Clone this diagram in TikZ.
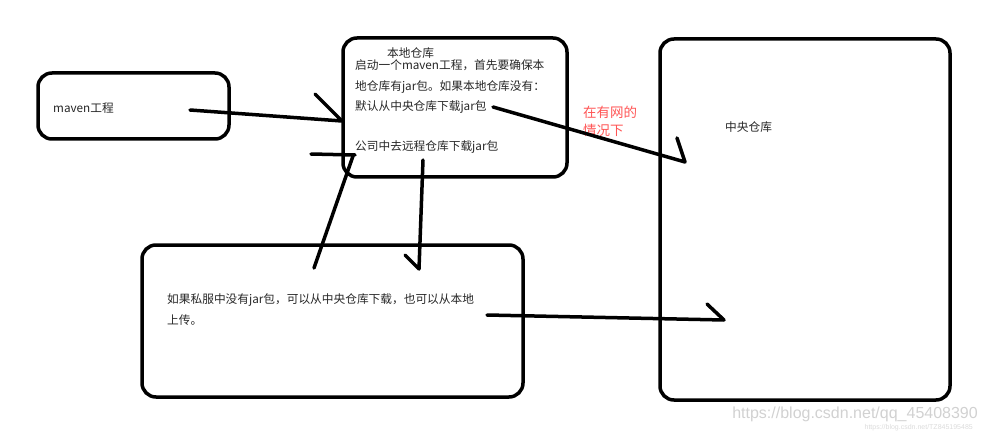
\documentclass[tikz,border=0pt]{standalone}
\usepackage{fontspec}
\setmainfont{Noto Sans CJK SC}
\newfontfamily\wmfont{Liberation Sans}
\definecolor{redtxt}{RGB}{255,85,85}
\begin{document}
\begin{tikzpicture}[x=1pt,y=-1pt,
  box/.style={draw=black, line width=3.5pt, rounded corners=14pt, inner sep=0pt, outer sep=0pt},
  stroke/.style={line width=3.5pt, line cap=round, line join=round},
  txt/.style={anchor=west, inner sep=0pt, font=\fontsize{11.7}{14}\selectfont, text=black!85},
  wm/.style={anchor=east, inner sep=0pt, text=black!18},
]
\useasboundingbox (0,0) rectangle (991,433);
% boxes
\node[box, minimum width=191pt, minimum height=66pt] (maven) at (133.5,106) {};
\node[box, minimum width=224pt, minimum height=139pt] (local) at (455,107.5) {};
\node[box, minimum width=381pt, minimum height=152pt] (private) at (332.5,321) {};
\node[box, minimum width=290pt, minimum height=361pt] (central) at (805,219.5) {};
% texts
\node[txt] (t1) at (53,108) {maven工程};
\node[txt] (t2) at (387,53) {本地仓库};
\node[txt] (t3) at (355,65) {启动一个maven工程，首先要确保本};
\node[txt] (t4) at (355,87) {地仓库有jar包。如果本地仓库没有：};
\node[txt] (t5) at (355,107) {默认从中央仓库下载jar包};
\node[txt] (t6) at (355,147) {公司中去远程仓库下载jar包};
\node[txt, text=redtxt, font=\fontsize{13.5}{16}\selectfont] (r1) at (583,112) {在有网的};
\node[txt, text=redtxt, font=\fontsize{13.5}{16}\selectfont] (r2) at (583,130) {情况下};
\node[txt] (t7) at (725,127) {中央仓库};
\node[txt] (t8) at (167,300) {如果私服中没有jar包，可以从中央仓库下载，也可以从本地};
\node[txt] (t9) at (167,320) {上传。};
\node[wm, font=\wmfont\fontsize{16}{18}\selectfont] (w1) at (978,414) {https://blog.csdn.net/qq\_45408390};
\node[wm, font=\wmfont\fontsize{7}{8}\selectfont, text=black!14] (w2) at (973,428) {https://blog.csdn.net/TZ845195485};
% connector end points
\coordinate (c1s) at (190,110); \coordinate (c1e) at (342,121); \coordinate (c1b) at (315,94);
\coordinate (c2s) at (314,268); \coordinate (c2e) at (353,156); \coordinate (c2b) at (311,154); \coordinate (c2c) at (355,155);
\coordinate (c3s) at (423,160); \coordinate (c3e) at (419,269); \coordinate (c3b) at (405,255);
\coordinate (c4s) at (493,107); \coordinate (c4e) at (685,162); \coordinate (c4b) at (677,138);
\coordinate (c5s) at (487,315); \coordinate (c5e) at (724,320); \coordinate (c5b) at (707,304);
% connectors
\draw[stroke] (c1s) -- (c1e) -- (c1b);
\draw[stroke] (c2s) -- (c2e);
\draw[stroke] (c2b) -- (c2c);
\draw[stroke] (c3s) -- (c3e) -- (c3b);
\draw[stroke] (c4s) -- (c4e) -- (c4b);
\draw[stroke] (c5s) -- (c5e) -- (c5b);
\end{tikzpicture}
\end{document}
